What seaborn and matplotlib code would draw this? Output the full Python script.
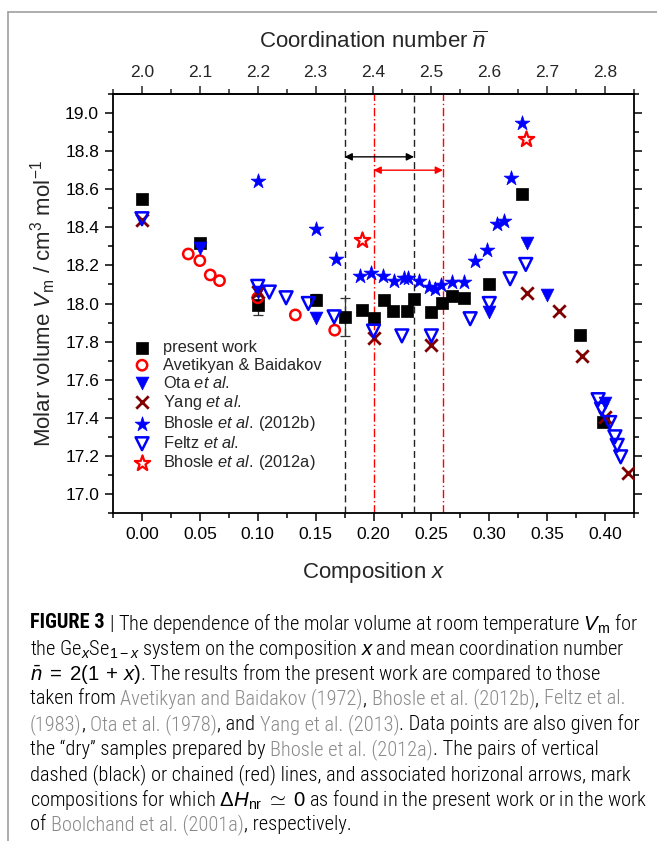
import numpy as np
import matplotlib
matplotlib.use("Agg")
import matplotlib.pyplot as plt
import seaborn as sns
from matplotlib.lines import Line2D
from matplotlib.ticker import MultipleLocator, FormatStrFormatter
from matplotlib import font_manager

# ---------------- data ----------------
pw_x = [0.00, 0.05, 0.10, 0.15, 0.175, 0.19, 0.20, 0.209, 0.217, 0.229, 0.235, 0.25, 0.259, 0.268, 0.278, 0.30, 0.328, 0.378, 0.398]
pw_y = [18.55, 18.32, 17.99, 18.02, 17.93, 17.965, 17.925, 18.02, 17.96, 17.96, 18.025, 17.955, 18.005, 18.04, 18.03, 18.105, 18.575, 17.835, 17.38]
pw_err = [0, 0, 0.05, 0.03, 0.10, 0, 0, 0, 0, 0, 0, 0, 0, 0, 0, 0, 0, 0, 0]

av_x = [0.040, 0.050, 0.059, 0.067, 0.100, 0.1325, 0.1665]
av_y = [18.26, 18.225, 18.15, 18.12, 18.03, 17.94, 17.86]

ota_x = [0.05, 0.10, 0.15, 0.30, 0.333, 0.35, 0.40]
ota_y = [18.29, 18.06, 17.925, 17.955, 18.32, 18.045, 17.475]

yang_x = [0.00, 0.10, 0.20, 0.25, 0.333, 0.36, 0.38, 0.40, 0.42]
yang_y = [18.44, 18.06, 17.82, 17.78, 18.055, 17.96, 17.725, 17.405, 17.11]

bb_x = [0.10, 0.15, 0.168, 0.188, 0.1975, 0.208, 0.218, 0.226, 0.23, 0.239, 0.248, 0.253, 0.258, 0.268, 0.278, 0.288, 0.298, 0.307, 0.3125, 0.3185, 0.328]
bb_y = [18.645, 18.39, 18.235, 18.145, 18.16, 18.145, 18.12, 18.135, 18.135, 18.12, 18.085, 18.075, 18.095, 18.115, 18.115, 18.225, 18.28, 18.42, 18.435, 18.66, 18.95]

fe_x = [0.00, 0.10, 0.11, 0.1245, 0.1437, 0.166, 0.20, 0.2245, 0.25, 0.2835, 0.30, 0.318, 0.3315, 0.394, 0.397, 0.404, 0.4085, 0.4105, 0.4135]
fe_y = [18.445, 18.09, 18.06, 18.03, 18.0, 17.93, 17.855, 17.83, 17.83, 17.92, 18.0, 18.13, 18.205, 17.495, 17.445, 17.375, 17.30, 17.255, 17.195]

ba_x = [0.19, 0.3315]
ba_y = [18.335, 18.865]

black_lines = [0.175, 0.235]
red_lines = [0.20, 0.26]
black_arrow_y = 18.77
red_arrow_y = 18.70

x_ticks = [0.00, 0.05, 0.10, 0.15, 0.20, 0.25, 0.30, 0.35, 0.40]
y_ticks = [17.0, 17.2, 17.4, 17.6, 17.8, 18.0, 18.2, 18.4, 18.6, 18.8, 19.0]
n_ticks = [2.0, 2.1, 2.2, 2.3, 2.4, 2.5, 2.6, 2.7, 2.8]

labels = ["present work", "Avetikyan & Baidakov", r"Ota $\mathit{et\ al.}$", r"Yang $\mathit{et\ al.}$",
          r"Bhosle $\mathit{et\ al.}\,$(2012b)", r"Feltz $\mathit{et\ al.}$", r"Bhosle $\mathit{et\ al.}\,$(2012a)"]

# ---------------- style ----------------
sns.set_style("ticks")
plt.rcParams["font.family"] = ["Liberation Sans", "DejaVu Sans"]
plt.rcParams["mathtext.fontset"] = "custom"
plt.rcParams["mathtext.rm"] = "Liberation Sans"
plt.rcParams["mathtext.it"] = "Liberation Sans:italic"
plt.rcParams["mathtext.bf"] = "Liberation Sans:bold"

W, H = 657, 841
fig = plt.figure(figsize=(W / 100, H / 100), dpi=100)
fig.patch.set_facecolor("white")
ax = fig.add_axes([113 / W, 1 - 513 / H, (634 - 113) / W, (513 - 94) / H])

BLUE = "#0000ff"
RED = "#ff0000"
MAROON = "#800000"

for xv in black_lines:
    ax.axvline(xv, color="#222222", ls=(0, (5, 3)), lw=1.0, zorder=1)
for xv in red_lines:
    ax.axvline(xv, color=RED, ls=(0, (6, 2, 1, 2)), lw=1.0, zorder=1)

ax.annotate("", xy=(black_lines[0], black_arrow_y), xytext=(black_lines[1], black_arrow_y),
            arrowprops=dict(arrowstyle="<|-|>", color="black", lw=1.0, shrinkA=0, shrinkB=0, mutation_scale=11))
ax.annotate("", xy=(red_lines[0], red_arrow_y), xytext=(red_lines[1], red_arrow_y),
            arrowprops=dict(arrowstyle="<|-|>", color=RED, lw=1.0, shrinkA=0, shrinkB=0, mutation_scale=11))

# error bars of present work
ex = [x for x, e in zip(pw_x, pw_err) if e > 0]
ey = [y for y, e in zip(pw_y, pw_err) if e > 0]
ee = [e for e in pw_err if e > 0]
ax.errorbar(ex, ey, yerr=ee, fmt="none", ecolor="#333333", elinewidth=0.9, capsize=3.5, capthick=0.9, zorder=2)

sns.scatterplot(x=pw_x, y=pw_y, ax=ax, marker="s", s=64, color="black", edgecolor="black", linewidth=0.5, label=labels[0], zorder=3)
sns.scatterplot(x=av_x, y=av_y, ax=ax, marker="o", s=55, fc="none", edgecolor=RED, linewidth=1.8, label=labels[1], zorder=3)
sns.scatterplot(x=ota_x, y=ota_y, ax=ax, marker="v", s=85, color=BLUE, edgecolor=BLUE, linewidth=0.5, label=labels[2], zorder=3)
sns.scatterplot(x=yang_x, y=yang_y, ax=ax, marker="x", s=80, color=MAROON, linewidth=2.0, label=labels[3], zorder=3)
sns.scatterplot(x=bb_x, y=bb_y, ax=ax, marker="*", s=125, color=BLUE, edgecolor=BLUE, linewidth=0.5, label=labels[4], zorder=3)
sns.scatterplot(x=fe_x, y=fe_y, ax=ax, marker="v", s=85, fc="none", edgecolor=BLUE, linewidth=1.8, label=labels[5], zorder=3)
sns.scatterplot(x=ba_x, y=ba_y, ax=ax, marker="*", s=135, fc="white", edgecolor=RED, linewidth=1.6, label=labels[6], zorder=3)

ax.set_xlim(-0.025, 0.425)
ax.set_ylim(16.9, 19.1)
ax.set_xticks(x_ticks)
ax.set_yticks(y_ticks)
ax.xaxis.set_major_formatter(FormatStrFormatter("%.2f"))
ax.yaxis.set_major_formatter(FormatStrFormatter("%.1f"))
ax.xaxis.set_minor_locator(MultipleLocator(0.025))
ax.yaxis.set_minor_locator(MultipleLocator(0.1))
ax.tick_params(which="both", direction="out", top=False, right=True, labelright=False,
               width=1.1, labelsize=12.5, pad=4, colors="black")
ax.tick_params(which="major", length=6)
ax.tick_params(which="minor", length=3.5)
for sp in ax.spines.values():
    sp.set_visible(True)
    sp.set_linewidth(1.3)
    sp.set_color("black")

ax.set_xlabel("Composition $x$", fontsize=16, labelpad=13)
ax.set_ylabel(r"Molar volume $V_\mathrm{m}$ / cm$^{3}$ mol$^{-1}$", fontsize=16, labelpad=5)

sec = ax.secondary_xaxis("top", functions=(lambda x: 2 * (1 + x), lambda n: n / 2 - 1))
sec.set_xticks(n_ticks)
sec.xaxis.set_major_formatter(FormatStrFormatter("%.1f"))
sec.xaxis.set_minor_locator(MultipleLocator(0.05))
sec.tick_params(which="both", direction="out", width=1.1, labelsize=12.5, pad=4)
sec.tick_params(which="major", length=6)
sec.tick_params(which="minor", length=3.5)
sec.spines["top"].set_linewidth(1.3)
sec.set_xlabel(r"Coordination number $\overline{n}$", fontsize=16, labelpad=12)

leg = ax.legend(loc="upper left", bbox_to_anchor=(0.040, 0.412), frameon=False, fontsize=11.8,
                handlelength=1.0, handletextpad=0.75, labelspacing=0.13, borderpad=0, borderaxespad=0)

# ---------------- frame ----------------
fig.add_artist(Line2D([8 / W, 8 / W], [0, 1 - 12 / H], color="#a0a0a0", lw=1.2, transform=fig.transFigure))
fig.add_artist(Line2D([8 / W, 1], [1 - 12 / H, 1 - 12 / H], color="#a0a0a0", lw=1.2, transform=fig.transFigure))

# ---------------- caption ----------------
names = {f.name for f in font_manager.fontManager.ttflist}
cap_family = "Liberation Sans"
for cand in ["Liberation Sans Narrow", "Roboto Condensed", "Open Sans Condensed", "Roboto"]:
    if cand in names:
        cap_family = cand
        break
GRAY = "#8a8a8a"
K = "black"
R = "light"
caption = [
    [("FIGURE 3 ", K, "bold"), (r"| The dependence of the molar volume at room temperature $V_\mathrm{m}$ for", K, R)],
    [(r"the Ge$_x$Se$_{1-x}$ system on the composition $x$ and mean coordination number", K, R)],
    [(r"$\bar{n}\;=\;2(1\,+\,x)$. The results from the present work are compared to those", K, R)],
    [("taken from ", K, R), ("Avetikyan and Baidakov (1972)", GRAY, R), (", ", K, R),
     ("Bhosle et al. (2012b)", GRAY, R), (", ", K, R), ("Feltz et al.", GRAY, R)],
    [("(1983)", GRAY, R), (", ", K, R), ("Ota et al. (1978)", GRAY, R), (", and ", K, R),
     ("Yang et al. (2013)", GRAY, R), (". Data points are also given for", K, R)],
    [("the \u201cdry\u201d samples prepared by ", K, R), ("Bhosle et al. (2012a)", GRAY, R),
     (". The pairs of vertical", K, R)],
    [("dashed (black) or chained (red) lines, and associated horizonal arrows, mark", K, R)],
    [(r"compositions for which $\Delta H_\mathrm{nr}\;\simeq\;0$ as found in the present work or in the work", K, R)],
    [("of ", K, R), ("Boolchand et al. (2001a)", GRAY, R), (", respectively.", K, R)],
]

fig.canvas.draw()
renderer = fig.canvas.get_renderer()


def measure(s, size, weight):
    t = fig.text(0, 0, s, fontsize=size, fontweight=weight, family=cap_family)
    w = t.get_window_extent(renderer).width
    t.remove()
    return w


def seg_width(s, size, weight):
    return measure(s + "I", size, weight) - measure("I", size, weight)


base = 12.0
line1 = sum(seg_width(s, base, wt) for s, c, wt in caption[0])
cap_size = base * 608 / line1

x0 = 30
y_first = 621
pitch = 25.2
for i, line in enumerate(caption):
    yp = y_first + i * pitch
    lead = 0.0
    prefix = ""
    for s, c, wt in line:
        off = lead + (seg_width(prefix, cap_size, R) if prefix else 0.0)
        fig.text((x0 + off) / W, 1 - yp / H, s, fontsize=cap_size, fontweight=wt, color=c,
                 family=cap_family, ha="left", va="center_baseline")
        if wt == "bold":
            lead += seg_width(s, cap_size, wt)
        else:
            prefix += s

fig.savefig("out.png", dpi=100, facecolor="white")
